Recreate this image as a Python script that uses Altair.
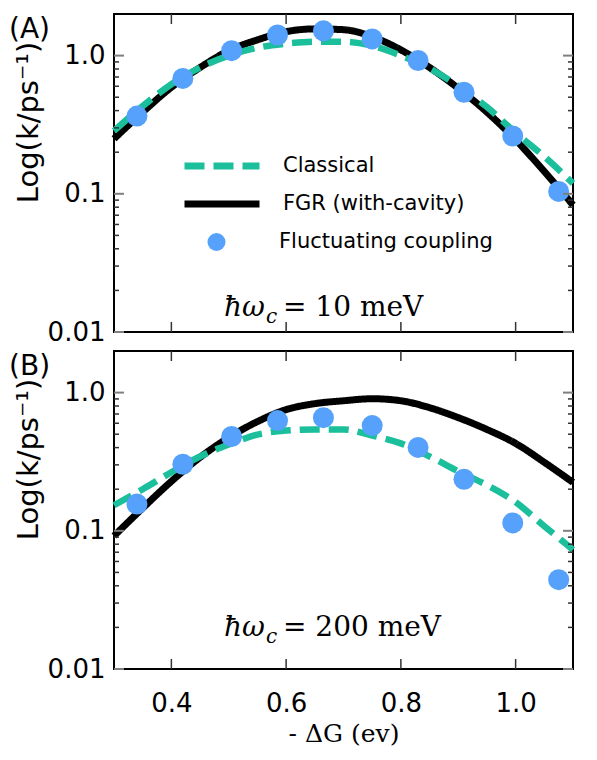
import altair as alt
import pandas as pd

# ---------------- data ----------------
X_GRID = [0.30, 0.35, 0.40, 0.45, 0.50, 0.55, 0.60, 0.65, 0.70, 0.75,
          0.80, 0.85, 0.90, 0.95, 1.00, 1.05, 1.10]

# Panel A (hbar omega_c = 10 meV)
FGR_A = [0.250, 0.390, 0.590, 0.820, 1.086, 1.30, 1.49, 1.56, 1.54, 1.37,
         1.10, 0.82, 0.58, 0.39, 0.246, 0.145, 0.083]
CLS_A = [0.285, 0.431, 0.620, 0.820, 1.00, 1.14, 1.22, 1.26, 1.26, 1.18,
         1.00, 0.807, 0.600, 0.424, 0.276, 0.186, 0.119]

# Panel B (hbar omega_c = 200 meV)
FGR_B = [0.0918, 0.146, 0.228, 0.340, 0.473, 0.617, 0.753, 0.832, 0.873, 0.903,
         0.873, 0.778, 0.659, 0.541, 0.429, 0.313, 0.224]
CLS_B = [0.153, 0.200, 0.265, 0.345, 0.421, 0.497, 0.531, 0.541, 0.541, 0.489,
         0.429, 0.345, 0.269, 0.214, 0.161, 0.108, 0.073]

X_PTS = [0.34, 0.42, 0.505, 0.585, 0.665, 0.75, 0.83, 0.91, 0.995, 1.075]
FLUCT_A = [0.365, 0.684, 1.086, 1.41, 1.51, 1.32, 0.921, 0.543, 0.262, 0.104]
FLUCT_B = [0.156, 0.303, 0.481, 0.627, 0.659, 0.577, 0.401, 0.236, 0.114, 0.0443]

SERIES_LINES = ["Classical", "FGR (with-cavity)"]
SERIES_PTS = ["Fluctuating coupling"]

Y_MAJOR = [0.01, 0.1, 1.0]
Y_MINOR = [0.02, 0.03, 0.04, 0.05, 0.06, 0.07, 0.08, 0.09,
           0.2, 0.3, 0.4, 0.5, 0.6, 0.7, 0.8, 0.9]
X_MAJOR = [0.4, 0.6, 0.8, 1.0]

PANEL_LABELS = ["(A)", "(B)"]
ANNOT_TAIL = ["= 10 meV", "= 200 meV"]

# ---------------- styling ----------------
GREEN = "#1bbf9b"
BLACK = "#000000"
BLUE = "#55a1fb"
W, H = 459, 318
SANS = "DejaVu Sans"
SERIF = "DejaVu Serif"

xscale = alt.Scale(domain=[0.3, 1.1], nice=False, zero=False)
yscale = alt.Scale(type="log", domain=[0.01, 2.0], nice=False)


def panel(idx, fgr, cls, fluct, bottom):
    lab = PANEL_LABELS[idx]
    yaxis = alt.Axis(values=Y_MAJOR, labelExpr="datum.value == 1 ? '1.0' : datum.label",
                     ticks=False, tickSize=0, domain=False, grid=False,
                     labelFont=SANS, labelFontSize=26, labelColor="black", labelPadding=9,
                     title="Log(k/ps⁻¹)", titleFont=SANS, titleFontSize=29,
                     titleFontWeight="normal", titleColor="black",
                     titleX=-86, titleY=108, titleAngle=270,
                     titleAlign="center", titleBaseline="middle")
    if bottom:
        xaxis = alt.Axis(values=X_MAJOR, format=".1f", ticks=False, tickSize=0,
                         domain=False, grid=False, labelFont=SANS, labelFontSize=26,
                         labelColor="black", labelPadding=21,
                         title="- ΔG (ev)", titleFont=SERIF, titleFontSize=25,
                         titleFontWeight="normal", titleColor="black",
                         titleY=72, titleBaseline="alphabetic")
    else:
        xaxis = None

    X = alt.X("x:Q", scale=xscale, axis=xaxis)
    Y = alt.Y("k:Q", scale=yscale, axis=yaxis)

    show_leg = idx == 0
    line_leg = alt.Legend(title=None, orient="none", legendX=67, legendY=133,
                          symbolType="stroke", symbolSize=5625, symbolStrokeWidth=7,
                          labelFont=SANS, labelFontSize=21, labelColor="black",
                          labelOffset=20, labelLimit=0, rowPadding=0, padding=0,
                          clipHeight=38) if show_leg else None
    pt_leg = alt.Legend(title=None, orient="none", legendX=92, legendY=209,
                        symbolType="circle", symbolSize=324, symbolStrokeWidth=0,
                        labelFont=SANS, labelFontSize=21, labelColor="black",
                        labelOffset=52, labelLimit=0, padding=0,
                        clipHeight=38) if show_leg else None

    color = alt.Color("series:N", scale=alt.Scale(domain=SERIES_LINES, range=[GREEN, BLACK]),
                      legend=line_leg)
    dash = alt.StrokeDash("series:N", scale=alt.Scale(domain=SERIES_LINES, range=[[20, 9], [1, 0]]),
                          legend=line_leg)

    fgr_df = pd.DataFrame({"x": X_GRID, "k": fgr, "series": SERIES_LINES[1]})
    cls_df = pd.DataFrame({"x": X_GRID, "k": cls, "series": SERIES_LINES[0]})
    pts_df = pd.DataFrame({"x": X_PTS, "k": fluct, "series": SERIES_PTS[0]})

    black = alt.Chart(fgr_df).mark_line(strokeWidth=7, interpolate="monotone").encode(
        x=X, y=Y, color=color, strokeDash=dash)
    green = alt.Chart(cls_df).mark_line(strokeWidth=6.5, interpolate="monotone",
                                        strokeCap="butt").encode(
        x=X, y=Y, color=color, strokeDash=dash)
    pts = alt.Chart(pts_df).mark_circle(size=441, opacity=1, strokeWidth=0).encode(
        x=X, y=Y,
        fill=alt.Fill("series:N", scale=alt.Scale(domain=SERIES_PTS, range=[BLUE]), legend=pt_leg))

    ymaj = pd.DataFrame({"k": Y_MAJOR})
    ymin = pd.DataFrame({"k": Y_MINOR})
    xmaj = pd.DataFrame({"x": X_MAJOR})
    ticks = []
    for xv in (5, W - 5):
        ticks.append(alt.Chart(ymaj).mark_tick(orient="horizontal", size=10, thickness=2,
                                                color="#7f7f7f", opacity=1).encode(
            y=Y, x=alt.value(xv)))
    for xv in (2.5, W - 2.5):
        ticks.append(alt.Chart(ymin).mark_tick(orient="horizontal", size=5, thickness=1.5,
                                                color="#333333", opacity=1).encode(
            y=Y, x=alt.value(xv)))
    for yv in (5, H - 5):
        ticks.append(alt.Chart(xmaj).mark_tick(orient="vertical", size=10, thickness=1.5,
                                                color="#333333", opacity=1).encode(
            x=X, y=alt.value(yv)))

    txt = pd.DataFrame({"lab": [lab], "tail": [ANNOT_TAIL[idx]]})
    base_y = 302 if idx == 0 else 285
    plabel = alt.Chart(txt).mark_text(align="left", baseline="alphabetic", font=SANS,
                                      fontSize=28, color="black").encode(
        x=alt.value(-105), y=alt.value(24), text="lab:N")
    hw = alt.Chart(txt).mark_text(align="left", baseline="alphabetic", font=SERIF,
                                  fontSize=28, fontStyle="italic", color="black").encode(
        x=alt.value(110), y=alt.value(base_y), text=alt.value("ħω"))
    sub = alt.Chart(txt).mark_text(align="left", baseline="alphabetic", font=SERIF,
                                   fontSize=20, fontStyle="italic", color="black").encode(
        x=alt.value(152), y=alt.value(base_y + 7), text=alt.value("c"))
    tail = alt.Chart(txt).mark_text(align="left", baseline="alphabetic", font=SERIF,
                                    fontSize=28, color="black").encode(
        x=alt.value(169), y=alt.value(base_y), text="tail:N")

    return alt.layer(black, green, pts, *ticks, plabel, hw, sub, tail).properties(width=W, height=H)


pa = panel(0, FGR_A, CLS_A, FLUCT_A, bottom=False)
pb = panel(1, FGR_B, CLS_B, FLUCT_B, bottom=True)

chart = alt.vconcat(pa, pb, spacing=19, bounds="flush").resolve_scale(
    color="independent", strokeDash="independent", fill="independent",
    x="independent", y="independent"
).resolve_legend(
    color="independent", strokeDash="independent", fill="independent"
).properties(
    padding={"left": 0, "right": 0, "top": 5, "bottom": 0},
    background="white"
).configure_view(stroke="black", strokeWidth=2)

chart.save("out.html", embed_options={"renderer": "svg", "actions": False})
